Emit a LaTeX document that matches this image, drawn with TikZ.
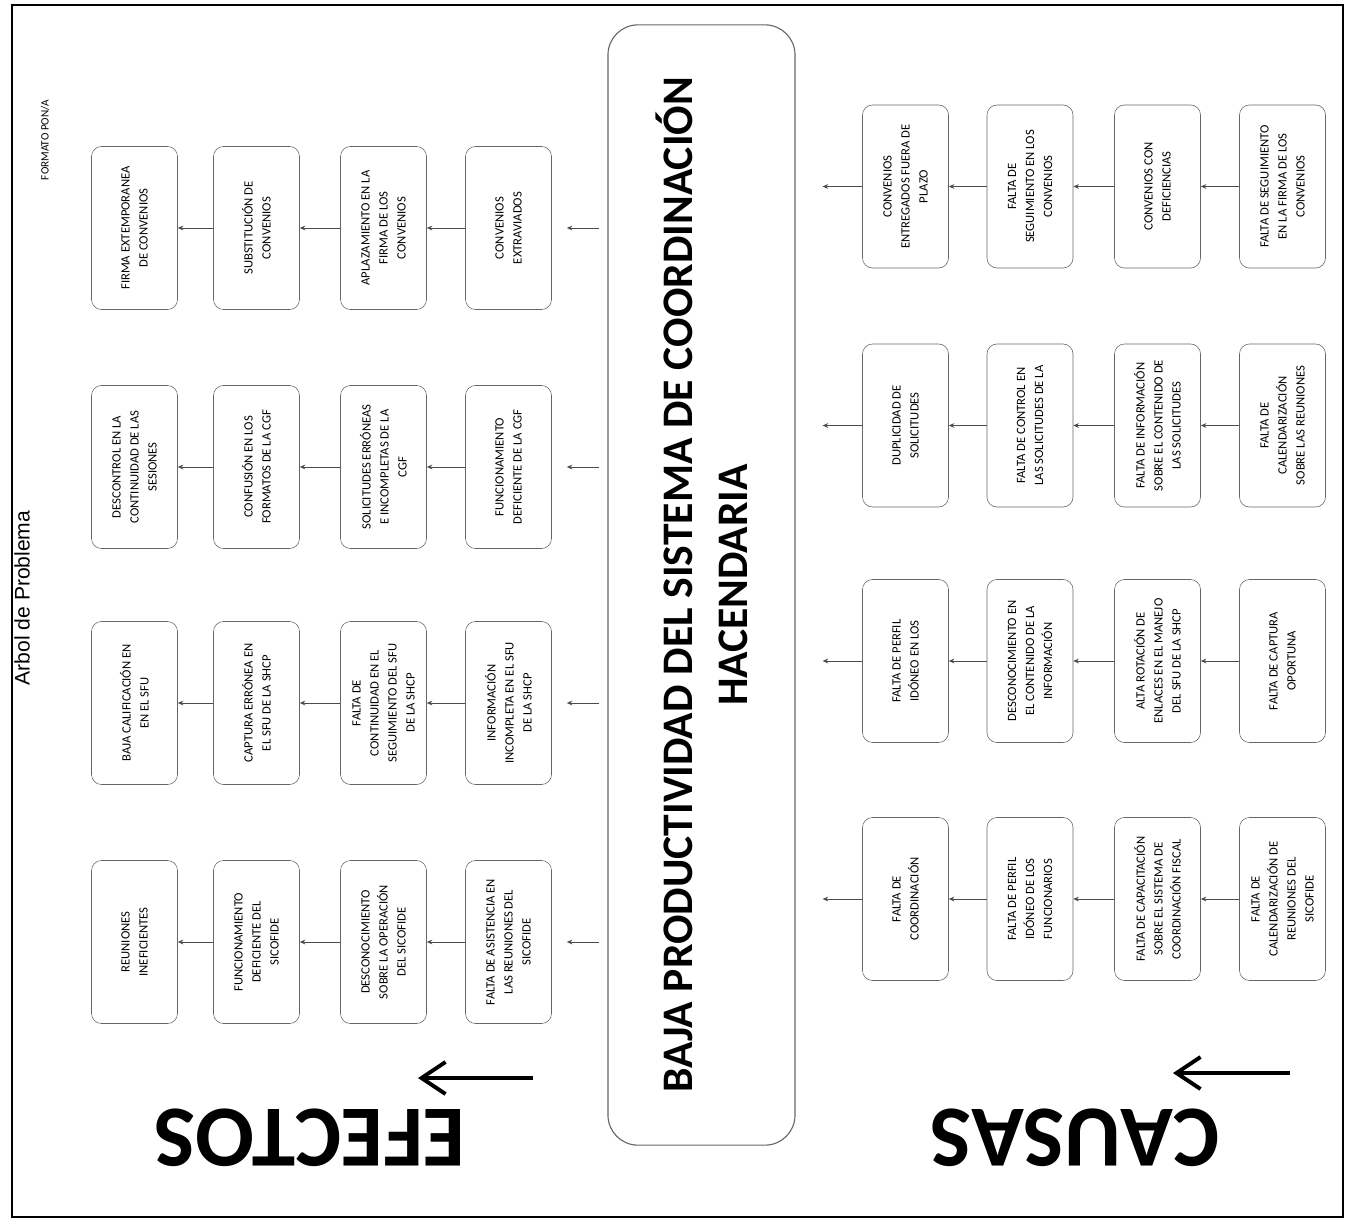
\documentclass[tikz,border=0pt]{standalone}
\usepackage{fontspec}
\setmainfont{Carlito}
\newfontfamily\headfont{Liberation Sans}
\usetikzlibrary{arrows.meta}

\begin{document}
\begin{tikzpicture}[x=0.025cm, y=-0.025cm,
  box/.style={draw=black!60, rounded corners=0.25cm, rotate=90, minimum width=4.075cm, minimum height=2.15cm,
    inner sep=2pt, align=center, font=\fontsize{9}{12.8}\selectfont},
  link/.style={draw=black!70, line width=0.6pt, -{Stealth[length=1.4mm,width=1.2mm]}},
  bigarrow/.style={line width=2.8pt, -{Straight Barb[length=6mm,width=8mm]}}]
\useasboundingbox (0,0) rectangle (1351,1223);
% Frame
\draw[line width=1.4pt] (12,5) rectangle (1343,1217);
\node[rotate=90, font=\headfont\fontsize{15}{15}\selectfont] (arbol) at (22,598) {Arbol de Problema};
\node[rotate=90, font=\fontsize{8}{8}\selectfont] (formato) at (45,140) {FORMATO PON/A};
% Central problem
\node[draw=black!60, line width=0.8pt, rounded corners=0.75cm, rotate=90, minimum width=28cm, minimum height=4.675cm,
  align=center, font=\fontsize{31}{39}\selectfont\bfseries] (core) at (701.5,585)
  {BAJA PRODUCTIVIDAD DEL SISTEMA DE COORDINACIÓN\\HACENDARIA};
% Efectos
\node[box] (e11) at (134.5,228) {FIRMA EXTEMPORANEA\\DE CONVENIOS};
\node[box] (e12) at (256.5,228) {SUBSTITUCIÓN DE\\CONVENIOS};
\node[box] (e13) at (383.5,228) {APLAZAMIENTO EN LA\\FIRMA DE LOS\\CONVENIOS};
\node[box] (e14) at (508.5,228) {CONVENIOS\\EXTRAVIADOS};
\node[box] (e21) at (134.5,467) {DESCONTROL EN LA\\CONTINUIDAD DE LAS\\SESIONES};
\node[box] (e22) at (256.5,467) {CONFUSIÓN EN LOS\\FORMATOS DE LA CGF};
\node[box] (e23) at (383.5,467) {SOLICITUDES ERRÓNEAS\\E INCOMPLETAS DE LA\\CGF};
\node[box] (e24) at (508.5,467) {FUNCIONAMIENTO\\DEFICIENTE DE LA CGF};
\node[box] (e31) at (134.5,703) {BAJA CALIFICACIÓN EN\\EN EL SFU};
\node[box] (e32) at (256.5,703) {CAPTURA ERRÓNEA EN\\EL SFU DE LA SHCP};
\node[box] (e33) at (383.5,703) {FALTA DE\\CONTINUIDAD EN EL\\SEGUIMIENTO DEL SFU\\DE LA SHCP};
\node[box] (e34) at (508.5,703) {INFORMACIÓN\\INCOMPLETA EN EL SFU\\DE LA SHCP};
\node[box] (e41) at (134.5,942) {REUNIONES\\INEFICIENTES};
\node[box] (e42) at (256.5,942) {FUNCIONAMIENTO\\DEFICIENTE DEL\\SICOFIDE};
\node[box] (e43) at (383.5,942) {DESCONOCIMIENTO\\SOBRE LA OPERACIÓN\\DEL SICOFIDE};
\node[box] (e44) at (508.5,942) {FALTA DE ASISTENCIA EN\\LAS REUNIONES DEL\\SICOFIDE};
% Causas
\node[box] (c11) at (905.5,186.5) {CONVENIOS\\ENTREGADOS FUERA DE\\PLAZO};
\node[box] (c12) at (1030,186.5) {FALTA DE\\SEGUIMIENTO EN LOS\\CONVENIOS};
\node[box] (c13) at (1157.5,186.5) {CONVENIOS CON\\DEFICIENCIAS};
\node[box] (c14) at (1282.5,186.5) {FALTA DE SEGUIMIENTO\\EN LA FIRMA DE LOS\\CONVENIOS};
\node[box] (c21) at (905.5,425.5) {DUPLICIDAD DE\\SOLICITUDES};
\node[box] (c22) at (1030,425.5) {FALTA DE CONTROL EN\\LAS SOLICITUDES DE LA};
\node[box] (c23) at (1157.5,425.5) {FALTA DE INFORMACIÓN\\SOBRE EL CONTENIDO DE\\LAS SOLICITUDES};
\node[box] (c24) at (1282.5,425.5) {FALTA DE\\CALENDARIZACIÓN\\SOBRE LAS REUNIONES};
\node[box] (c31) at (905.5,661) {FALTA DE PERFIL\\IDÓNEO EN LOS};
\node[box] (c32) at (1030,661) {DESCONOCIMIENTO EN\\EL CONTENIDO DE LA\\INFORMACIÓN};
\node[box] (c33) at (1157.5,661) {ALTA ROTACIÓN DE\\ENLACES EN EL MANEJO\\DEL SFU DE LA SHCP};
\node[box] (c34) at (1282.5,661) {FALTA DE CAPTURA\\OPORTUNA};
\node[box] (c41) at (905.5,899) {FALTA DE\\COORDINACIÓN};
\node[box] (c42) at (1030,899) {FALTA DE PERFIL\\IDÓNEO DE LOS\\FUNCIONARIOS};
\node[box] (c43) at (1157.5,899) {FALTA DE CAPACITACIÓN\\SOBRE EL SISTEMA DE\\COORDINACIÓN FISCAL};
\node[box] (c44) at (1282.5,899) {FALTA DE\\CALENDARIZACIÓN DE\\REUNIONES DEL\\SICOFIDE};
% Links
\foreach \r in {1,...,4}{
  \draw[link, shorten <=0.2cm, shorten >=0.375cm] (core.north |- e\r4) -- (e\r4);
  \draw[link] (e\r4) -- (e\r3);
  \draw[link] (e\r3) -- (e\r2);
  \draw[link] (e\r2) -- (e\r1);
  \draw[link] (c\r4) -- (c\r3);
  \draw[link] (c\r3) -- (c\r2);
  \draw[link] (c\r2) -- (c\r1);
  \draw[link, shorten >=0.675cm] (c\r1) -- (core.south |- c\r1);
}
% Labels
\node[rotate=180, font=\fontsize{62}{62}\selectfont\bfseries] (efectos) at (310,1138) {EFECTOS};
\node[rotate=180, font=\fontsize{62}{62}\selectfont\bfseries] (causas) at (1075,1138) {CAUSAS};
\coordinate (ea) at (533,1078);
\coordinate (eb) at (418,1078);
\coordinate (ca) at (1290,1073);
\coordinate (cb) at (1173,1073);
\draw[bigarrow] (ea) -- (eb);
\draw[bigarrow] (ca) -- (cb);
\end{tikzpicture}
\end{document}
